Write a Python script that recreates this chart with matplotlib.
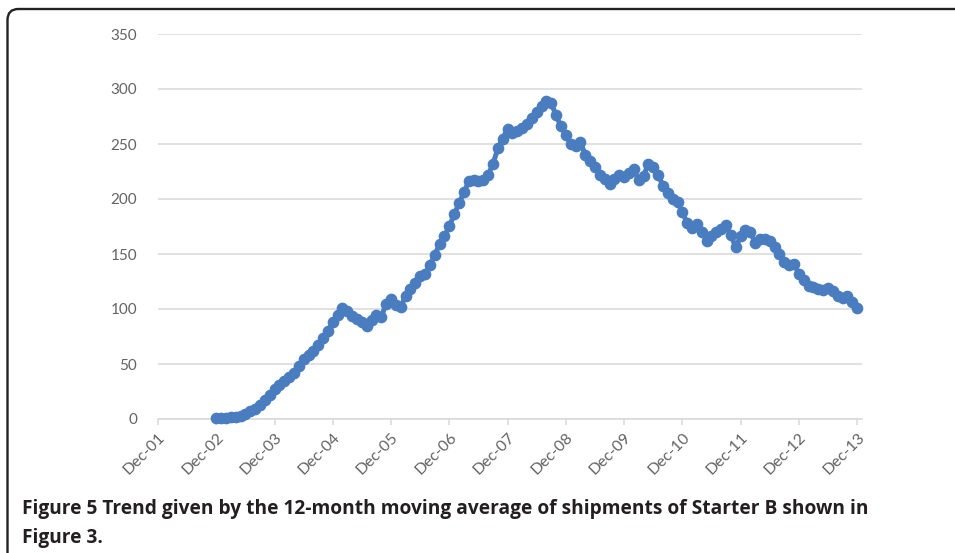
import matplotlib
matplotlib.use("Agg")
import matplotlib.pyplot as plt
from matplotlib.patches import FancyBboxPatch
from matplotlib.transforms import IdentityTransform, ScaledTranslation

# ---- data: 12-month moving average, monthly, Dec-02 .. Dec-13 ----
start_month = 12  # months after Dec-01
values = [
    1, 1, 1, 1.5, 2, 3, 5, 7, 9, 13, 17, 22,            # Dec-02 .. Nov-03
    27, 31, 35, 38, 42, 48, 55, 58, 62, 67, 74, 80,     # Dec-03 .. Nov-04
    88, 95, 101, 98, 94, 91, 88, 85, 90, 95, 93, 105,   # Dec-04 .. Nov-05
    109, 104, 102, 112, 118, 124, 130, 132, 140, 149, 159, 166,  # Dec-05 .. Nov-06
    175, 186, 196, 206, 216, 217, 216, 217, 222, 232, 246, 255,  # Dec-06 .. Nov-07
    264, 260, 262, 265, 268, 274, 279, 285, 289, 287, 276, 266,  # Dec-07 .. Nov-08
    258, 250, 248, 252, 240, 235, 229, 222, 218, 214, 218, 222,  # Dec-08 .. Nov-09
    220, 224, 227, 217, 221, 232, 229, 222, 212, 205, 200, 197,  # Dec-09 .. Nov-10
    188, 178, 174, 177, 170, 162, 166, 170, 173, 176, 167, 156,  # Dec-10 .. Nov-11
    166, 172, 170, 160, 164, 164, 162, 156, 150, 143, 140, 141,  # Dec-11 .. Nov-12
    132, 126, 121, 120, 118, 117, 119, 116, 112, 110, 112, 106,  # Dec-12 .. Nov-13
    101,                                                          # Dec-13
]
months = list(range(start_month, start_month + len(values)))

tick_labels = ["Dec-01", "Dec-02", "Dec-03", "Dec-04", "Dec-05", "Dec-06", "Dec-07",
               "Dec-08", "Dec-09", "Dec-10", "Dec-11", "Dec-12", "Dec-13"]
tick_positions = [12 * i for i in range(len(tick_labels))]
y_ticks = [0, 50, 100, 150, 200, 250, 300, 350]

caption_bold = "Figure 5 Trend given by the 12-month moving average of shipments of Starter B shown in"
caption_line2 = "Figure 3."

# ---- figure ----
W, H = 955, 553
fig = plt.figure(figsize=(W / 100, H / 100), dpi=100)
fig.patch.set_facecolor("white")

left, right, top, bottom = 158, 862, 34, 419
ax = fig.add_axes([left / W, (H - bottom) / H, (right - left) / W, (bottom - top) / H])

blue = "#4A7DBF"
grid_c = "#D9D9D9"
txt_c = "#636363"

ax.plot(months, values, color=blue, lw=3.6, marker="o", ms=7.4,
        markerfacecolor=blue, markeredgecolor=blue, zorder=3, clip_on=False)

ax.set_xlim(0, 145)
ax.set_ylim(0, 350)
ax.set_yticks(y_ticks)
ax.set_xticks(tick_positions)
ax.set_xticklabels(tick_labels, rotation=45, ha="right", va="center",
                   rotation_mode="anchor")
ax.yaxis.grid(True, color=grid_c, lw=1.1)
ax.set_axisbelow(True)
for s in ["left", "right", "top"]:
    ax.spines[s].set_visible(False)
ax.spines["bottom"].set_color(grid_c)
ax.spines["bottom"].set_linewidth(1.1)
ax.tick_params(axis="y", length=0, pad=15, labelsize=11, labelcolor=txt_c)
ax.tick_params(axis="x", length=4, width=1.1, color=grid_c, pad=7,
               labelsize=11.4, labelcolor=txt_c)
offset = ScaledTranslation(5 / 100, -1 / 100, fig.dpi_scale_trans)
for lab in ax.get_xticklabels():
    lab.set_fontfamily("Lato")
    lab.set_transform(lab.get_transform() + offset)
for lab in ax.get_yticklabels():
    lab.set_fontfamily("Lato")

# ---- frame (rounded top-left corner, open at right/bottom) ----
frame = FancyBboxPatch((7.5, -60), 1100, (H - 9) + 60,
                       boxstyle="round,pad=0,rounding_size=11",
                       transform=IdentityTransform(), fill=False,
                       edgecolor="#222222", lw=1.7)
fig.add_artist(frame)

# ---- caption ----
fig.text(22 / W, (H - 514) / H, caption_bold, fontsize=13.75, fontweight="bold",
         family="Open Sans", color="#231F20", va="baseline", ha="left")
fig.text(22 / W, (H - 543) / H, caption_line2, fontsize=13.75, fontweight="bold",
         family="Open Sans", color="#231F20", va="baseline", ha="left")

fig.savefig("out.png", dpi=100, facecolor="white")
